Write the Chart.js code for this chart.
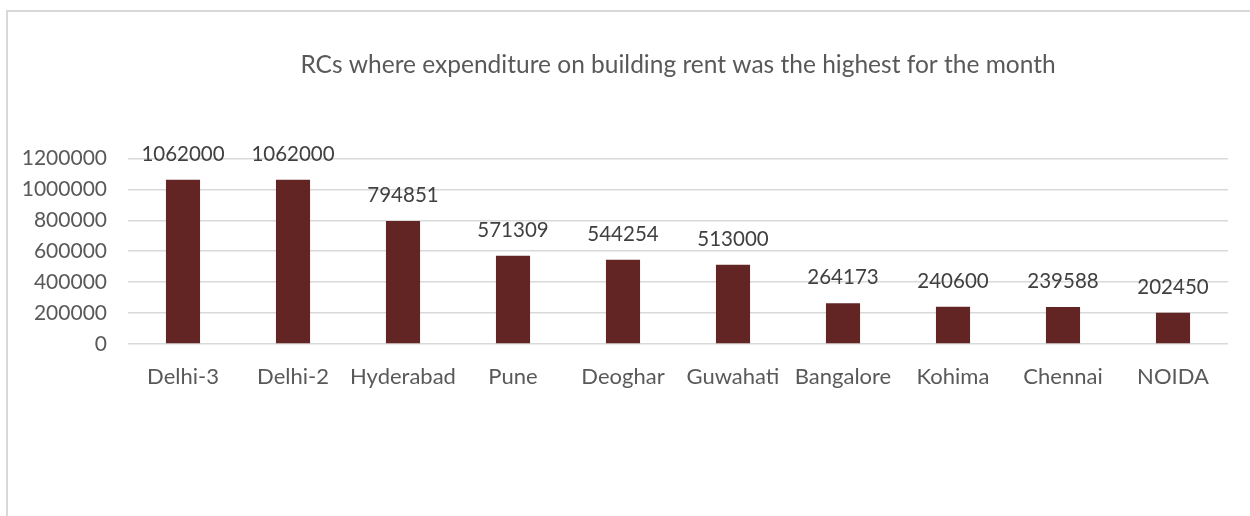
<!DOCTYPE html>
<html>
<head>
<meta charset="utf-8">
<script src="https://cdn.jsdelivr.net/npm/chart.js@4/dist/chart.umd.min.js"></script>
<style>
  html, body { margin: 0; padding: 0; background: #ffffff; overflow: hidden; }
  #wrap { position: absolute; left: 0; top: 0; width: 1250px; height: 516px; }
  #frame { position: absolute; left: 6px; top: 10px; width: 1300px; height: 600px; border: 2px solid #d9d9d9; box-sizing: border-box; }
  canvas { position: absolute; left: 0; top: 0; }
</style>
</head>
<body>
<div id="wrap">
  <div id="frame"></div>
  <canvas id="c" width="1250" height="516"></canvas>
</div>
<script>
const titleText = 'RCs where expenditure on building rent was the highest for the month';
const categories = ['Delhi-3', 'Delhi-2', 'Hyderabad', 'Pune', 'Deoghar', 'Guwahati', 'Bangalore', 'Kohima', 'Chennai', 'NOIDA'];
const rentValues = [1062000, 1062000, 794851, 571309, 544254, 513000, 264173, 240600, 239588, 202450];
const yTicks = [0, 200000, 400000, 600000, 800000, 1000000, 1200000];

const FONT = 'Lato, "Open Sans", sans-serif';
const TEXT = '#595959';

const valueLabels = {
  id: 'valueLabels',
  afterDatasetsDraw(chart) {
    const ctx = chart.ctx;
    const meta = chart.getDatasetMeta(0);
    ctx.save();
    ctx.font = '20.5px ' + FONT;
    ctx.fillStyle = '#404040';
    ctx.textAlign = 'center';
    ctx.textBaseline = 'alphabetic';
    meta.data.forEach((bar, i) => {
      ctx.fillText(String(chart.data.datasets[0].data[i]), bar.x, bar.y - 19);
    });
    ctx.restore();
  }
};

new Chart(document.getElementById('c'), {
  type: 'bar',
  data: {
    labels: categories,
    datasets: [{
      data: rentValues,
      backgroundColor: '#632523',
      borderWidth: 0,
      barPercentage: 0.31,
      categoryPercentage: 1.0
    }]
  },
  options: {
    responsive: false,
    animation: false,
    devicePixelRatio: 1,
    layout: { padding: { left: 0, right: 22, top: 0, bottom: 0 } },
    plugins: {
      legend: { display: false },
      tooltip: { enabled: false },
      title: {
        display: true,
        text: titleText,
        fullSize: false,
        color: TEXT,
        font: { family: FONT, size: 24.5, weight: 'normal', lineHeight: 1.2 },
        padding: { top: 50, bottom: 79 }
      }
    },
    scales: {
      x: {
        grid: { display: false, drawTicks: false },
        border: { display: false },
        ticks: { color: TEXT, font: { family: FONT, size: 22 }, padding: 20, maxRotation: 0, autoSkip: false },
        afterFit(s) { s.height = 172; }
      },
      y: {
        min: 0,
        max: 1200000,
        afterBuildTicks(s) { s.ticks = yTicks.map(v => ({ value: v })); },
        grid: { color: '#d9d9d9', lineWidth: 1.5, drawTicks: false },
        border: { display: false },
        ticks: { color: TEXT, font: { family: FONT, size: 21 }, padding: 21, callback: v => String(v) },
        afterFit(s) { s.width = 128; }
      }
    }
  },
  plugins: [valueLabels]
});
</script>
</body>
</html>
